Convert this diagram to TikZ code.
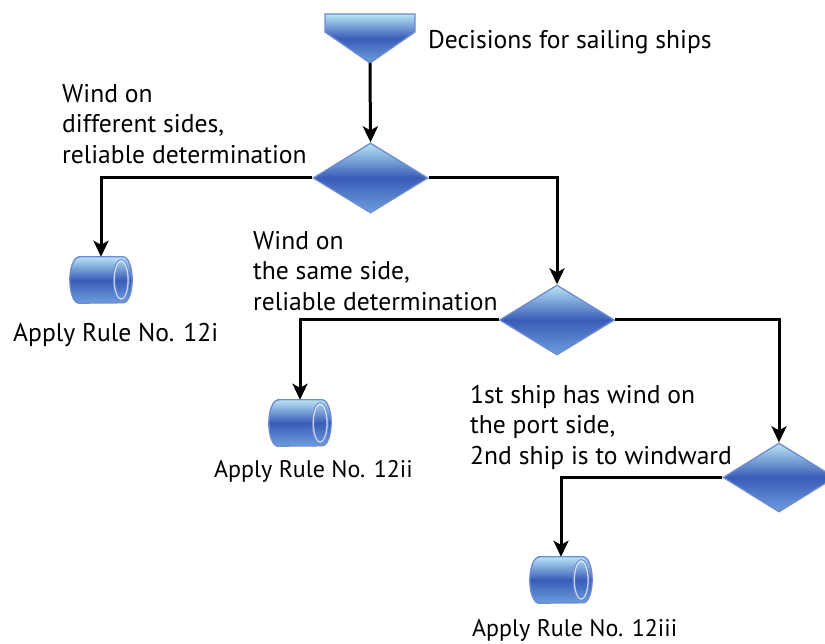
\documentclass[tikz,border=0pt]{standalone}
\usepackage{fontspec}
\setmainfont{PT Sans}
\usetikzlibrary{shapes.geometric,arrows.meta}
\definecolor{lite}{HTML}{B8E4F4}
\definecolor{mid}{HTML}{3A5CB8}
\definecolor{low}{HTML}{6C9EDD}
\definecolor{edgeblue}{HTML}{6E8AD2}
\tikzset{
  dec/.style={diamond, minimum width=115pt, minimum height=70pt, inner sep=0pt,
    draw=edgeblue, line width=1.3pt, top color=lite, bottom color=low, middle color=mid},
  cylbox/.style={rectangle, minimum width=62pt, minimum height=46pt, inner sep=0pt},
  cylbody/.style={draw=edgeblue, line width=1.3pt, top color=lite, bottom color=low, middle color=mid},
  conn/.style={line width=3pt, -{Stealth[length=16pt,width=15pt,inset=4pt]}},
  lbl/.style={inner sep=0pt, align=left, font=\fontsize{25.6}{30.5}\selectfont},
  lbls/.style={inner sep=0pt, align=left, font=\fontsize{24}{30}\selectfont},
}
\newcommand\cyldraw[1]{%
  \path[cylbody] ([xshift=9pt]#1.north west) -- ([xshift=-9pt]#1.north east)
    arc[start angle=90,end angle=-90,x radius=9pt,y radius=23pt]
    -- ([xshift=9pt]#1.south west)
    arc[start angle=270,end angle=90,x radius=9pt,y radius=23pt] -- cycle;
  \draw[white, line width=1.6pt, opacity=0.7] ([xshift=-11pt]#1.east) ellipse[x radius=7pt, y radius=19.5pt];
  \draw[edgeblue, line width=0.9pt] ([xshift=-11pt]#1.east) ellipse[x radius=8pt, y radius=20.5pt];
}
\begin{document}
\begin{tikzpicture}[x=1pt,y=-1pt]
\clip (0,0) rectangle (825,644);
\fill[white] (0,0) rectangle (825,644);
% start shape
\path[draw=edgeblue, line width=1.3pt, top color=lite, bottom color=low, middle color=mid]
  (325,14) -- (415,14) -- (415,32) -- (370,63) -- (325,32) -- cycle;
\coordinate (src) at (370,63);
\node[lbl, anchor=base west] (title) at (428,49) {Decisions for sailing ships};
% decisions
\node[dec] (d1) at (370.5,178) {};
\node[dec] (d2) at (557,320) {};
\node[dec, minimum width=112pt, minimum height=69pt] (d3) at (779,477.5) {};
% results
\node[cylbox] (c1) at (101,280) {};
\node[cylbox] (c2) at (300,423) {};
\node[cylbox] (c3) at (561,580) {};
\cyldraw{c1}
\cyldraw{c2}
\cyldraw{c3}
% labels
\node[lbl, anchor=north west] (w1) at (62,84) {Wind on\\different sides,\\reliable determination};
\node[lbl, anchor=north west] (w2) at (253,231) {Wind on\\the same side,\\reliable determination};
\node[lbl, anchor=north west] (w3) at (470,385) {1st ship has wind on\\the port side,\\2nd ship is to windward};
\node[lbl, anchor=base west] (r1) at (13,342) {Apply Rule No. 12i};
\node[lbls, anchor=base west] (r2) at (214,477) {Apply Rule No. 12ii};
\node[lbls, anchor=base west] (r3) at (472,636) {Apply Rule No. 12iii};
% connectors
\draw[conn] (src) -- (d1.north);
\draw[conn] (d1.west) -| (c1.north);
\draw[conn] (d1.east) -| (d2.north);
\draw[conn] (d2.west) -| (c2.north);
\draw[conn] (d2.east) -| (d3.north);
\draw[conn] (d3.west) -| (c3.north);
\end{tikzpicture}
\end{document}
